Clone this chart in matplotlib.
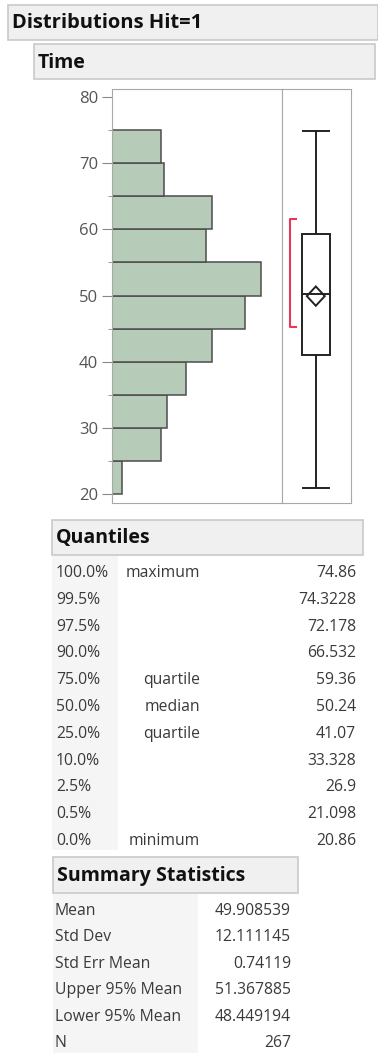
import numpy as np
import matplotlib.pyplot as plt
from matplotlib.patches import Rectangle, Polygon

W, H = 378, 1053

# histogram of Time (bin width 5)
bin_edges = [20, 25, 30, 35, 40, 45, 50, 55, 60, 65, 70, 75]
counts = [3, 15, 17, 23, 31, 41, 46, 29, 31, 16, 15]

# quantiles table
q_pct = ["100.0%", "99.5%", "97.5%", "90.0%", "75.0%", "50.0%",
         "25.0%", "10.0%", "2.5%", "0.5%", "0.0%"]
q_names = ["maximum", "", "", "", "quartile", "median",
           "quartile", "", "", "", "minimum"]
q_vals = [74.86, 74.3228, 72.178, 66.532, 59.36, 50.24,
          41.07, 33.328, 26.9, 21.098, 20.86]

# summary statistics table
stat_names = ["Mean", "Std Dev", "Std Err Mean", "Upper 95% Mean",
              "Lower 95% Mean", "N"]
stat_vals = ["49.908539", "12.111145", "0.74119", "51.367885",
             "48.449194", "267"]

shortest_half = [45.2, 61.6]

plt.rcParams['font.family'] = ['Open Sans', 'DejaVu Sans']

fig = plt.figure(figsize=(W / 100, H / 100), dpi=100)

# page layer in pixel coordinates
page = fig.add_axes([0, 0, 1, 1])
page.set_xlim(0, W)
page.set_ylim(H, 0)
page.axis('off')

def header(x0, y0, x1, y1, text, size):
    page.add_patch(Rectangle((x0, y0), x1 - x0, y1 - y0, facecolor='#f0f0f0',
                             edgecolor='#c9c9c9', lw=1.2))
    page.text(x0 + 4, (y0 + y1) / 2 + 1, text, fontsize=size, fontweight='bold',
              va='center', ha='left', color='#111111')

header(8, 5, 378, 40, "Distributions Hit=1", 14.5)
header(34, 44, 375, 79, "Time", 14)
header(52, 520, 363, 555, "Quantiles", 14)
header(53, 857, 298, 893, "Summary Statistics", 14)

# shaded label columns
page.add_patch(Rectangle((52, 556), 66, 294, facecolor='#f5f5f5', edgecolor='none'))
page.add_patch(Rectangle((53, 894), 145, 159, facecolor='#f5f5f5', edgecolor='none'))

txt = '#3a3a3a'
fs = 11.3
row0, dy = 573, 26.8
for i in range(len(q_pct)):
    y = row0 + i * dy
    page.text(56, y, q_pct[i], fontsize=fs, color=txt, va='center', ha='left')
    page.text(200, y, q_names[i], fontsize=fs, color=txt, va='center', ha='right')
    page.text(356, y, f"{q_vals[i]:g}", fontsize=fs, color=txt, va='center', ha='right')

row0, dy = 911, 26.4
for i in range(len(stat_names)):
    y = row0 + i * dy
    page.text(55, y, stat_names[i], fontsize=fs, color=txt, va='center', ha='left')
    page.text(291, y, stat_vals[i], fontsize=fs, color=txt, va='center', ha='right')

def px_axes(x0, y0, x1, y1):
    return fig.add_axes([x0 / W, 1 - y1 / H, (x1 - x0) / W, (y1 - y0) / H])

ylo, yhi = 18.64, 81.21
frame = '#a8a8a8'

# histogram panel
ax = px_axes(112, 89, 282, 503)
ax.barh(bin_edges[:-1], counts, height=5, align='edge', color='#b6cbb8',
        edgecolor='#4d4d4d', lw=1.1)
ax.set_ylim(ylo, yhi)
ax.set_xlim(0, 52.5)
ax.set_yticks(np.arange(20, 81, 10))
ax.set_yticks(np.arange(25, 80, 10), minor=True)
ax.set_xticks([])
ax.tick_params(axis='y', which='major', length=7, color='#888888',
               labelsize=12, labelcolor='#555555', pad=3)
ax.tick_params(axis='y', which='minor', length=3, color='#888888')
for s in ax.spines.values():
    s.set_color(frame)

# outlier box plot panel
bx = px_axes(282, 89, 351, 503)
bx.set_ylim(ylo, yhi)
bx.set_xlim(0, 1)
bx.set_xticks([])
bx.set_yticks([])
for s in bx.spines.values():
    s.set_color(frame)

q3, med, q1 = q_vals[4], q_vals[5], q_vals[6]
lo, hi = q_vals[-1], q_vals[0]
mean = float(stat_vals[0])
upper, lower = float(stat_vals[3]), float(stat_vals[4])
c = 0.49
k = dict(color='#222222', lw=1.4)
bx.add_patch(Rectangle((c - 0.2, q1), 0.4, q3 - q1, facecolor='white',
                       edgecolor='#222222', lw=1.4))
bx.plot([c - 0.2, c + 0.2], [med, med], **k)
bx.plot([c, c], [q3, hi], **k)
bx.plot([c, c], [lo, q1], **k)
bx.plot([c - 0.19, c + 0.19], [hi, hi], **k)
bx.plot([c - 0.19, c + 0.19], [lo, lo], **k)
bx.add_patch(Polygon([[c - 0.13, mean], [c, upper], [c + 0.13, mean], [c, lower]],
                     closed=True, facecolor='none', edgecolor='#222222', lw=1.4))
bx.plot([0.2, 0.12, 0.12, 0.2],
        [shortest_half[1], shortest_half[1], shortest_half[0], shortest_half[0]],
        color='#e8385a', lw=1.5)

fig.savefig('out.png', dpi=100)
